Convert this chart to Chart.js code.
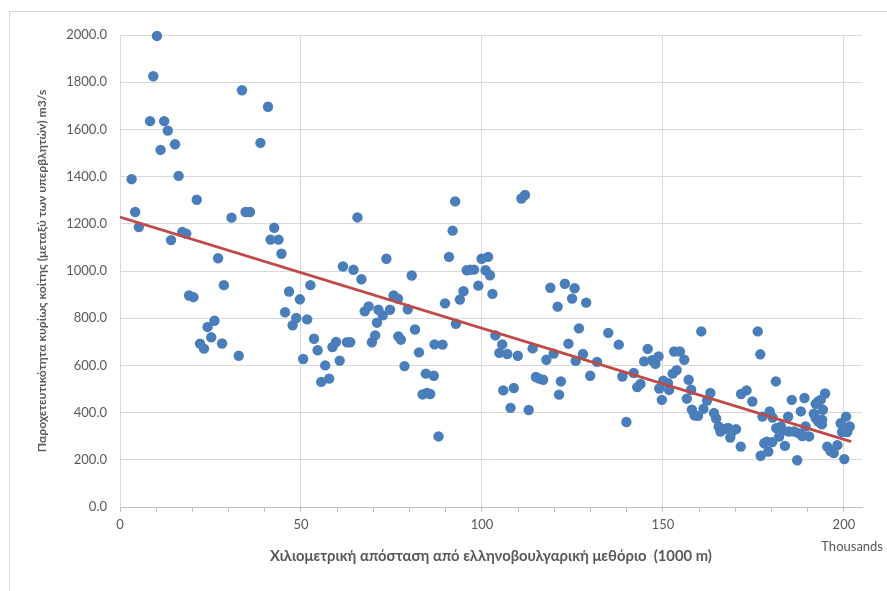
<!DOCTYPE html>
<html>
<head>
<meta charset="utf-8">
<script src="https://cdn.jsdelivr.net/npm/chart.js@4.4.1/dist/chart.umd.min.js"></script>
<style>
  body { margin: 0; background: #fff; overflow: hidden; }
  #wrap { position: relative; width: 887px; height: 591px; }
  #frame { position: absolute; left: 9px; top: 11px; width: 900px; height: 600px; border: 1px solid #d9d9d9; }
  canvas { position: absolute; left: 0; top: 0; }
</style>
</head>
<body>
<div id="wrap">
  <div id="frame"></div>
  <canvas id="chart" width="887" height="591"></canvas>
</div>
<script>
// distance from the Greek-Bulgarian border (thousands of m)
const distance = [
  3.2, 4.2, 5.2, 8.3, 9.2, 10.2, 11.2, 12.2, 13.2, 14.1, 15.2, 16.2, 17.2, 18.3, 19.1, 20.3, 21.2, 22.1, 23.2, 24.2,
  25.2, 26.1, 27.1, 28.2, 28.7, 30.8, 32.8, 33.7, 34.7, 35.9, 38.8, 40.9, 41.6, 42.6, 43.8, 44.6, 45.6, 46.7, 47.7, 48.7,
  49.7, 50.6, 51.7, 52.6, 53.6, 54.6, 55.6, 56.7, 57.8, 58.7, 59.7, 60.7, 61.6, 62.7, 63.6, 64.5, 65.6, 66.7, 67.6, 68.7,
  69.6, 70.5, 71.0, 71.4, 72.6, 73.6, 74.6, 75.6, 76.8, 76.9, 77.6, 78.6, 79.5, 80.6, 81.5, 82.6, 83.6, 84.5, 84.8, 85.7,
  86.7, 86.9, 88.0, 89.1, 89.8, 90.9, 91.9, 92.6, 92.8, 93.9, 94.9, 95.8, 96.7, 97.8, 99.0, 99.9, 101.0, 101.7, 102.2, 102.9,
  103.7, 104.8, 105.6, 105.9, 107.0, 107.9, 108.8, 109.9, 110.9, 111.9, 112.9, 114.0, 114.9, 115.8, 116.9, 117.8, 118.9, 119.8, 120.9, 121.3,
  121.8, 122.9, 123.9, 124.9, 125.6, 125.9, 126.8, 127.9, 128.8, 129.9, 131.8, 134.9, 137.8, 138.8, 139.9, 141.9, 142.9, 143.8, 144.8, 145.8,
  147.0, 147.9, 148.8, 149.0, 149.7, 150.1, 151.4, 151.7, 152.7, 153.8, 153.1, 154.7, 155.9, 157.1, 156.6, 157.8, 158.0, 158.7, 159.7, 160.6,
  161.2, 162.2, 163.1, 164.1, 164.7, 165.4, 165.9, 166.9, 168.0, 168.6, 169.1, 170.2, 171.5, 171.6, 173.1, 174.7, 176.2, 176.9, 177.0, 177.5,
  178.0, 178.7, 179.1, 179.5, 180.3, 181.2, 180.2, 181.3, 182.1, 182.6, 183.0, 183.7, 184.6, 185.6, 184.8, 186.2, 187.1, 187.4, 188.1, 188.5,
  189.1, 189.4, 190.4, 191.7, 192.2, 192.9, 192.2, 192.9, 193.6, 194.8, 194.2, 194.0, 195.4, 196.3, 197.2, 198.2, 199.1, 200.1, 200.6, 199.5,
  200.9, 201.6, 193.9
];
// bankfull discharge capacity (m3/s)
const capacity = [
  1389, 1250, 1186, 1635, 1825, 1996, 1513, 1635, 1595, 1131, 1537, 1403, 1165, 1158, 896, 889, 1302, 692, 671, 763,
  719, 789, 1054, 693, 940, 1226, 641, 1766, 1250, 1250, 1543, 1696, 1133, 1183, 1133, 1073, 825, 913, 770, 801,
  880, 627, 795, 940, 713, 664, 530, 600, 544, 678, 699, 620, 1019, 698, 698, 1005, 1227, 965, 829, 850,
  698, 727, 781, 836, 812, 1052, 836, 896, 883, 723, 709, 597, 838, 981, 752, 655, 477, 565, 483, 479,
  556, 689, 299, 688, 863, 1060, 1171, 1295, 776, 879, 914, 1003, 1005, 1006, 938, 1052, 1003, 1060, 982, 903,
  727, 653, 689, 494, 648, 420, 504, 641, 1307, 1322, 411, 672, 551, 544, 539, 624, 929, 650, 849, 476,
  532, 946, 692, 883, 927, 619, 757, 648, 866, 556, 615, 738, 688, 553, 360, 568, 508, 521, 617, 670,
  622, 607, 638, 502, 454, 535, 525, 496, 565, 580, 659, 659, 624, 539, 459, 497, 412, 388, 386, 744,
  416, 451, 483, 398, 375, 341, 320, 330, 335, 294, 320, 330, 256, 479, 494, 447, 744, 647, 217, 383,
  270, 277, 235, 405, 379, 532, 275, 334, 298, 341, 324, 259, 383, 454, 320, 320, 198, 313, 405, 301,
  462, 341, 299, 395, 377, 362, 437, 447, 454, 481, 412, 369, 256, 237, 229, 262, 355, 203, 383, 318,
  318, 341, 350
];
// linear trend line end points
const trendDistance = [0, 202];
const trendCapacity = [1229, 277];

const xTicks = [0, 50, 100, 150, 200];
const yTicksStep = 200;

const FONT = 'Lato, "Open Sans", sans-serif';
const GREY_TEXT = '#595959';

const points = distance.map((d, i) => ({ x: d, y: capacity[i] }));
const trend = trendDistance.map((d, i) => ({ x: d, y: trendCapacity[i] }));

// "Thousands" unit label under the x axis
const unitLabel = {
  id: 'unitLabel',
  afterDraw(chart) {
    const ctx = chart.ctx;
    ctx.save();
    ctx.font = '13px ' + FONT;
    ctx.fillStyle = GREY_TEXT;
    ctx.textAlign = 'right';
    ctx.textBaseline = 'middle';
    ctx.fillText('Thousands', 883, 547);
    ctx.restore();
  }
};

new Chart(document.getElementById('chart'), {
  type: 'scatter',
  data: {
    datasets: [
      {
        label: 'trend',
        type: 'line',
        data: trend,
        borderColor: '#be4b48',
        borderWidth: 2.75,
        pointRadius: 0,
        fill: false,
        order: 0
      },
      {
        label: 'capacity',
        data: points,
        backgroundColor: '#4a7ebb',
        borderColor: '#4a7ebb',
        borderWidth: 0,
        pointRadius: 5.2,
        clip: false,
        order: 1
      }
    ]
  },
  options: {
    responsive: false,
    animation: false,
    layout: { padding: { left: 26, top: 35, right: 25, bottom: 0 } },
    plugins: { legend: { display: false }, tooltip: { enabled: false } },
    scales: {
      x: {
        type: 'linear',
        min: 0,
        max: 205,
        afterFit: s => { s.height = 84; },
        afterBuildTicks: s => {
          const t = [];
          for (let v = 0; v <= 200; v += 10) t.push({ value: v });
          s.ticks = t;
        },
        ticks: {
          color: GREY_TEXT,
          font: { family: FONT, size: 13 },
          padding: 5,
          maxRotation: 0,
          autoSkip: false,
          callback: v => (xTicks.includes(v) ? String(v) : '')
        },
        grid: {
          color: c => (c.tick && xTicks.includes(c.tick.value) ? '#d9d9d9' : 'rgba(0,0,0,0)'),
          tickColor: '#bfbfbf',
          tickLength: 5,
          lineWidth: 1
        },
        border: { color: '#bfbfbf', width: 1 },
        title: {
          display: true,
          text: 'Χιλιομετρική απόσταση από ελληνοβουλγαρική μεθόριο  (1000 m)',
          color: GREY_TEXT,
          font: { family: FONT, size: 14.8, weight: 'bold' },
          padding: { top: 0, bottom: 26 }
        }
      },
      y: {
        min: 0,
        max: 2000,
        afterFit: s => { s.width = 94; },
        ticks: {
          stepSize: yTicksStep,
          color: GREY_TEXT,
          font: { family: FONT, size: 13 },
          padding: 13,
          callback: v => v.toFixed(1)
        },
        grid: { color: '#d9d9d9', drawTicks: false },
        border: { color: '#d9d9d9' },
        title: {
          display: true,
          text: 'Παροχετευτικότητα κυρίως κοίτης (μεταξύ των υπερβλητών) m3/s',
          color: GREY_TEXT,
          font: { family: FONT, size: 12.2, weight: 'bold' },
          padding: { top: 9, bottom: 0 }
        }
      }
    }
  },
  plugins: [unitLabel]
});
</script>
</body>
</html>
